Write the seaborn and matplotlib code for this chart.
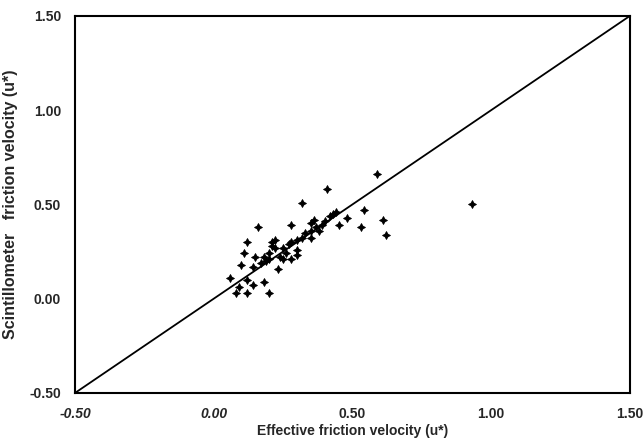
import matplotlib
matplotlib.use("Agg")
import matplotlib.pyplot as plt
import seaborn as sns
import pandas as pd

effective = [0.06, 0.09, 0.08, 0.12, 0.12, 0.14, 0.18, 0.20, 0.14, 0.15, 0.18, 0.10,
             0.11, 0.12, 0.16, 0.20, 0.21, 0.22, 0.20, 0.23, 0.24, 0.25, 0.21, 0.22,
             0.28, 0.30, 0.28, 0.32, 0.35, 0.38, 0.35, 0.36, 0.43, 0.48, 0.45, 0.53,
             0.62, 0.61, 0.54, 0.59, 0.41, 0.32, 0.28, 0.93, 0.26, 0.27, 0.30, 0.33,
             0.37, 0.40, 0.42, 0.44, 0.17, 0.19, 0.30, 0.25, 0.35, 0.39]
scint = [0.11, 0.06, 0.03, 0.03, 0.10, 0.07, 0.09, 0.03, 0.17, 0.22, 0.22, 0.18,
         0.24, 0.30, 0.38, 0.24, 0.30, 0.27, 0.21, 0.16, 0.22, 0.27, 0.28, 0.31,
         0.21, 0.26, 0.30, 0.32, 0.32, 0.36, 0.40, 0.42, 0.45, 0.43, 0.39, 0.38,
         0.34, 0.42, 0.47, 0.66, 0.58, 0.51, 0.39, 0.50, 0.24, 0.29, 0.31, 0.35,
         0.38, 0.41, 0.44, 0.46, 0.19, 0.20, 0.23, 0.21, 0.36, 0.39]
ticks = [-0.5, 0.0, 0.5, 1.0, 1.5]
tick_labels = ["-0.50", "0.00", "0.50", "1.00", "1.50"]
line_x = [-0.5, 1.5]
line_y = [-0.5, 1.5]

sns.set_style("white")
plt.rcParams["font.family"] = ["Liberation Sans", "DejaVu Sans"]

df = pd.DataFrame({"x": effective, "y": scint})
fig = plt.figure(figsize=(6.44, 4.43), dpi=100)
ax = fig.add_axes([0.1165, 0.113, 0.8615, 0.851])

ax.plot(line_x, line_y, color="black", lw=1.3)
sns.scatterplot(data=df, x="x", y="y", ax=ax, marker=(4, 1, 0), s=32,
                color="black", edgecolor="black", linewidth=0.6)

ax.set_xlim(-0.5, 1.5)
ax.set_ylim(-0.5, 1.5)
ax.set_xticks(ticks)
ax.set_yticks(ticks)
ax.set_xticklabels(tick_labels, fontsize=10, fontweight="bold")
ax.set_yticklabels(tick_labels, fontsize=10, fontweight="bold")
for i, lab in enumerate(ax.get_xticklabels()):
    if i < 2:
        lab.set_style("italic")
ax.tick_params(length=0, pad=10)
ax.set_xlabel("Effective friction velocity (u*)", fontsize=10, fontweight="bold", labelpad=2)
ax.set_ylabel("Scintillometer   friction velocity (u*)", fontsize=11.5, fontweight="bold", labelpad=8)
for s in ax.spines.values():
    s.set_color("black")
    s.set_linewidth(1.5)

fig.savefig("out.png", dpi=100)
